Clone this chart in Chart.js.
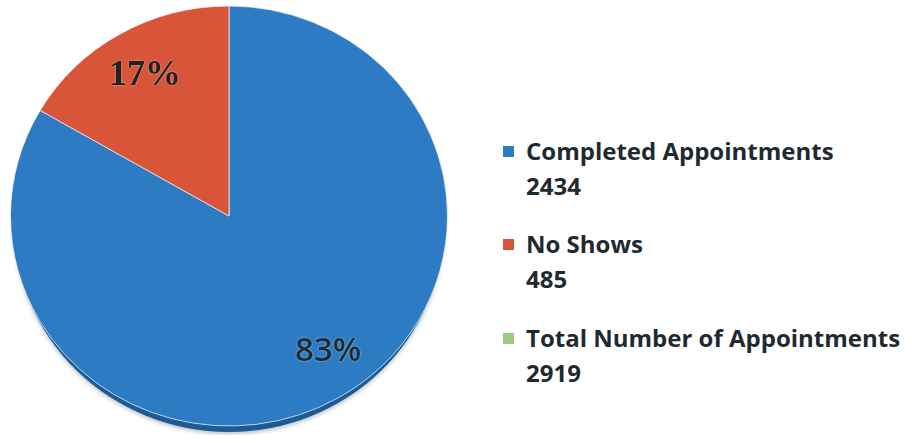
<!DOCTYPE html>
<html>
<head>
<meta charset="utf-8">
<script src="https://cdn.jsdelivr.net/npm/chart.js@4.4.0/dist/chart.umd.min.js"></script>
<style>
  html, body { margin: 0; padding: 0; background: #fff; width: 912px; height: 443px; overflow: hidden; }
  #pieBox { position: absolute; left: 10px; top: -3px; width: 438px; height: 438px; }
  .legend-item { position: absolute; left: 503px; font-family: "Open Sans", sans-serif; font-weight: 700;
                 font-size: 24px; line-height: 35px; color: #1f2a30; }
  .legend-item .swatch { position: absolute; left: 0; top: 13px; width: 11px; height: 11px; }
  .legend-item .txt { margin-left: 23px; white-space: nowrap; }
</style>
</head>
<body>
<div id="pieBox"><canvas id="pieChart"></canvas></div>
<div id="legend"></div>

<script>
// chart data
const categories = ['Completed Appointments', 'No Shows', 'Total Number of Appointments'];
const counts = [2434, 485, 2919];
const percentLabels = ['83%', '17%'];
const colors = ['#2d7cc3', '#d9553a', '#9ccb7e'];

// only the first two categories are slices, the total just sits in the legend
const sliceValues = counts.slice(0, 2);

// pie is drawn a bit squashed vertically, like the original 3d-ish look
const squash = 0.961;

const ellipsePlugin = {
    id: 'ellipse',
    beforeDatasetsDraw(chart) {
        const arc = chart.getDatasetMeta(0).data[0];
        const ctx = chart.ctx;
        ctx.save();
        // dark rim underneath the face
        ctx.save();
        ctx.shadowColor = 'rgba(0,0,0,0.25)';
        ctx.shadowBlur = 4;
        ctx.shadowOffsetY = 2;
        ctx.fillStyle = '#1d5b97';
        ctx.beginPath();
        ctx.ellipse(arc.x, arc.y + 6, arc.outerRadius - 3, arc.outerRadius * squash, 0, 0, Math.PI * 2);
        ctx.fill();
        ctx.restore();
        ctx.translate(arc.x, arc.y);
        ctx.scale(1, squash);
        ctx.translate(-arc.x, -arc.y);
    },
    afterDatasetsDraw(chart) {
        const ctx = chart.ctx;
        ctx.restore();
        // percentage labels
        const meta = chart.getDatasetMeta(0);
        const fonts = ['600 33px "Open Sans", sans-serif', 'bold 36px "Liberation Serif", serif'];
        const fracs = [0.79, 0.77];
        const nudge = [-0.09, 0];
        meta.data.forEach((arc, i) => {
            const mid = (arc.startAngle + arc.endAngle) / 2 + nudge[i];
            const r = arc.outerRadius * fracs[i];
            const x = arc.x + Math.cos(mid) * r;
            const y = arc.y + Math.sin(mid) * r * squash;
            ctx.save();
            ctx.font = fonts[i];
            ctx.textAlign = 'center';
            ctx.textBaseline = 'middle';
            ctx.shadowColor = 'rgba(255,255,255,0.6)';
            ctx.shadowBlur = 2;
            ctx.fillStyle = i === 0 ? '#1c2b36' : '#222';
            ctx.fillText(percentLabels[i], x, y);
            ctx.restore();
        });
    }
};

new Chart(document.getElementById('pieChart'), {
    type: 'pie',
    data: {
        labels: categories.slice(0, 2),
        datasets: [{
            data: sliceValues,
            backgroundColor: colors.slice(0, 2),
            borderColor: 'rgba(255,255,255,0.7)',
            borderWidth: 1
        }]
    },
    options: {
        responsive: true,
        maintainAspectRatio: false,
        animation: false,
        layout: { padding: 0 },
        plugins: {
            legend: { display: false },
            tooltip: { enabled: false }
        }
    },
    plugins: [ellipsePlugin]
});

// legend on the right, name + count on two lines
const legendTops = [133, 226, 320];
const legend = document.getElementById('legend');
categories.forEach((name, i) => {
    const item = document.createElement('div');
    item.className = 'legend-item';
    item.style.top = legendTops[i] + 'px';
    item.innerHTML = '<span class="swatch" style="background:' + colors[i] + '"></span>' +
        '<div class="txt">' + name + '</div><div class="txt">' + counts[i] + '</div>';
    legend.appendChild(item);
});
</script>
</body>
</html>
